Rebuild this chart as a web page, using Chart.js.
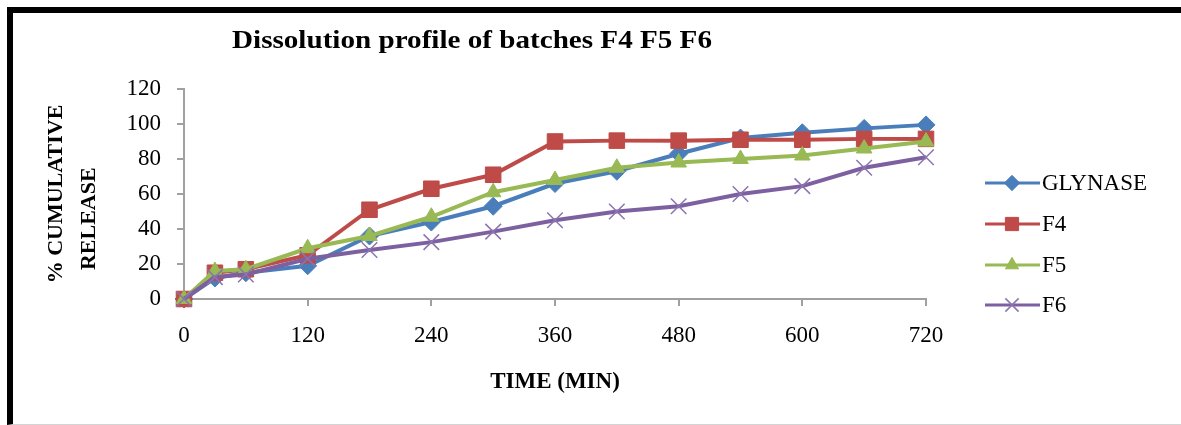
<!DOCTYPE html>
<html>
<head>
<meta charset="utf-8">
<title>Dissolution profile of batches F4 F5 F6</title>
<script src="https://cdn.jsdelivr.net/npm/chart.js@4.4.0/dist/chart.umd.min.js"></script>
<style>
  body { margin: 0; background: #fff; }
  #wrap { position: relative; width: 1181px; height: 425px; overflow: hidden; }
  #chart { position: absolute; left: 0; top: 0; }
  .frame {
    position: absolute; left: 7px; top: 7px; right: 0; bottom: 0;
    box-sizing: border-box;
    border-top: 6px solid #000;
    border-left: 6px solid #000;
    border-bottom: 1px solid #d4d4d4;
    pointer-events: none;
  }
</style>
</head>
<body>
<div id="wrap">
  <canvas id="chart" width="1181" height="425"></canvas>
  <div class="frame"></div>
</div>
<script>
let timeMin = [0, 30, 60, 120, 180, 240, 300, 360, 420, 480, 540, 600, 660, 720];
let glynase = [0, 12, 15, 19, 36, 44, 53, 66, 73, 83, 92, 95, 97.5, 99.5];
let f4 = [0, 15, 17, 25, 51, 63, 71, 90, 90.5, 90.5, 91, 91, 91.5, 91.5];
let f5 = [0, 16, 17, 29, 36, 47, 61, 68, 75, 78, 80, 82, 86, 90];
let f6 = [0, 12.5, 14, 23, 28, 32.5, 38.5, 45, 50, 53, 60, 64.5, 75, 81];

let seriesNames = ["GLYNASE", "F4", "F5", "F6"];
let xTicks = [0, 120, 240, 360, 480, 600, 720];
let yTicks = [0, 20, 40, 60, 80, 100, 120];

let serif = "'Liberation Serif', 'Times New Roman', serif";
let axisGrey = "#a0a0a0";

function points(values){
  return timeMin.map(function(t, i){
    return { x: t, y: values[i] };
  });
}

function series(label, values, color, style, radius, order, markColor, markWidth){
  return {
    label: label,
    data: points(values),
    borderColor: color,
    backgroundColor: color,
    borderWidth: 4,
    tension: 0,
    pointStyle: style,
    pointRadius: radius,
    pointHoverRadius: radius,
    pointBackgroundColor: color,
    pointBorderColor: markColor || color,
    pointBorderWidth: markWidth || 1,
    order: order,
    clip: false
  };
}

// title and legend drawn where the original places them
let sideText = {
  id: "sideText",
  afterDraw: function(chart){
    let ctx = chart.ctx;
    ctx.save();
    ctx.fillStyle = "#000";
    ctx.font = "bold 26px " + serif;
    ctx.textAlign = "center";
    ctx.textBaseline = "middle";
    // original picture is a bit wider than tall, stretch the title to match
    ctx.translate(472, 41);
    ctx.scale(1.12, 1);
    ctx.fillText("Dissolution profile of batches F4 F5 F6", 0, 0);
    ctx.setTransform(1, 0, 0, 1, 0, 0);

    let rowY = [183, 224, 265, 305];
    chart.data.datasets.forEach(function(ds, i){
      let y = rowY[i];
      ctx.strokeStyle = ds.borderColor;
      ctx.lineWidth = 3;
      ctx.beginPath();
      ctx.moveTo(985, y);
      ctx.lineTo(1040, y);
      ctx.stroke();

      ctx.fillStyle = ds.pointBackgroundColor;
      ctx.strokeStyle = ds.pointBorderColor;
      ctx.lineWidth = ds.pointBorderWidth;
      if(Chart.helpers && Chart.helpers.drawPoint){
        Chart.helpers.drawPoint(ctx, {
          pointStyle: ds.pointStyle,
          radius: ds.pointRadius * 0.85,
          rotation: 0,
          borderWidth: ds.pointBorderWidth
        }, 1012, y);
      }

      ctx.fillStyle = "#000";
      ctx.font = "23px " + serif;
      ctx.textAlign = "left";
      ctx.textBaseline = "middle";
      ctx.fillText(ds.label, 1042, y + 1);
    });
    ctx.restore();
  }
};

let chart = new Chart(document.getElementById("chart"), {
  type: "line",
  data: {
    datasets: [
      series(seriesNames[0], glynase, "#4a7ebb", "rectRot", 9, 4),
      series(seriesNames[1], f4, "#be4b48", "rect", 11, 3),
      series(seriesNames[2], f5, "#98b954", "triangle", 9, 2),
      series(seriesNames[3], f6, "#7d60a0", "crossRot", 11, 1, "#8c74b0", 1.5)
    ]
  },
  options: {
    responsive: false,
    animation: false,
    devicePixelRatio: 1,
    layout: {
      padding: { top: 89, right: 255, bottom: 0, left: 0 }
    },
    plugins: {
      legend: { display: false },
      title: { display: false },
      tooltip: { enabled: false }
    },
    scales: {
      x: {
        type: "linear",
        min: 0,
        max: 720,
        afterFit: function(scale){ scale.height = 126; },
        afterBuildTicks: function(scale){
          scale.ticks = xTicks.map(function(v){ return { value: v }; });
        },
        ticks: {
          color: "#000",
          padding: 16,
          font: { family: serif, size: 23 }
        },
        grid: {
          drawOnChartArea: false,
          drawTicks: true,
          tickLength: 7,
          color: axisGrey,
          lineWidth: 2
        },
        border: { color: axisGrey, width: 2 },
        title: {
          display: true,
          text: "TIME (MIN)",
          color: "#000",
          font: { family: serif, size: 23, weight: "bold", lineHeight: 1.2 },
          padding: { top: 0, bottom: 29 }
        }
      },
      y: {
        min: 0,
        max: 120,
        afterFit: function(scale){ scale.width = 184; },
        afterBuildTicks: function(scale){
          scale.ticks = yTicks.map(function(v){ return { value: v }; });
        },
        ticks: {
          color: "#000",
          padding: 16,
          font: { family: serif, size: 23 }
        },
        grid: {
          drawOnChartArea: false,
          drawTicks: true,
          tickLength: 7,
          color: axisGrey,
          lineWidth: 2
        },
        border: { color: axisGrey, width: 2 },
        title: {
          display: true,
          text: ["% CUMULATIVE", "RELEASE         "],
          color: "#000",
          font: { family: serif, size: 22, weight: "bold", lineHeight: 1.5 },
          padding: { top: 40, bottom: 0 }
        }
      }
    }
  },
  plugins: [sideText]
});
</script>
</body>
</html>
